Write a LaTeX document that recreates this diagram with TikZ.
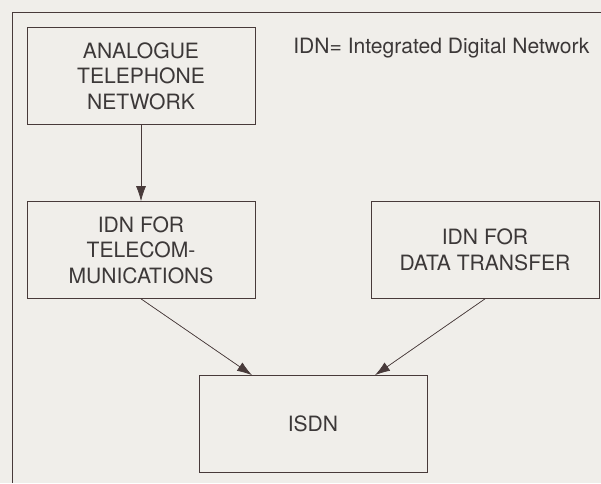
\documentclass[tikz,border=0pt]{standalone}
\usepackage{fontspec}
\setmainfont{TeX Gyre Heros}
\usetikzlibrary{arrows.meta,positioning,calc}
\definecolor{ink}{RGB}{72,58,58}
\definecolor{txt}{RGB}{60,56,56}
\definecolor{paper}{RGB}{240,238,234}
\tikzset{
  netbox/.style={rectangle,draw=ink,thin,minimum width=4.56cm,minimum height=1.94cm,
    align=center,text=txt,font=\fontsize{12}{14.5}\selectfont},
  feed/.style={-{Latex[length=3mm,width=2mm]},thin,draw=ink,fill=ink},
}
\begin{document}
\begin{tikzpicture}[x=0.02cm,y=-0.02cm]
\useasboundingbox[fill=paper] (0,0) rectangle (601,483);
% frame
\draw[ink,thin] (601,12) -- (12,12) -- (12,483);

% Legend
\node[anchor=west,text=txt,font=\fontsize{12}{14.5}\selectfont,inner sep=0pt] (leg) at (293,48) {IDN= Integrated Digital Network};

% --- networks ---
\node[netbox] (ana) at (141,76) {ANALOGUE\\TELEPHONE\\NETWORK};
\node[netbox] (idnt) at (141,250) {IDN FOR\\TELECOM-\\MUNICATIONS};
\node[netbox] (idnd) at (485,250) {IDN FOR\\DATA TRANSFER};
\node[netbox] (isdn) at (313,424) {ISDN};

% --- arrows ---
\draw[feed] (ana) -- (idnt);
\draw[feed] (idnt.south) -- ($(isdn.north)+(-61,0)$);
\draw[feed] (idnd.south) -- ($(isdn.north)+(62,0)$);
\end{tikzpicture}
\end{document}
